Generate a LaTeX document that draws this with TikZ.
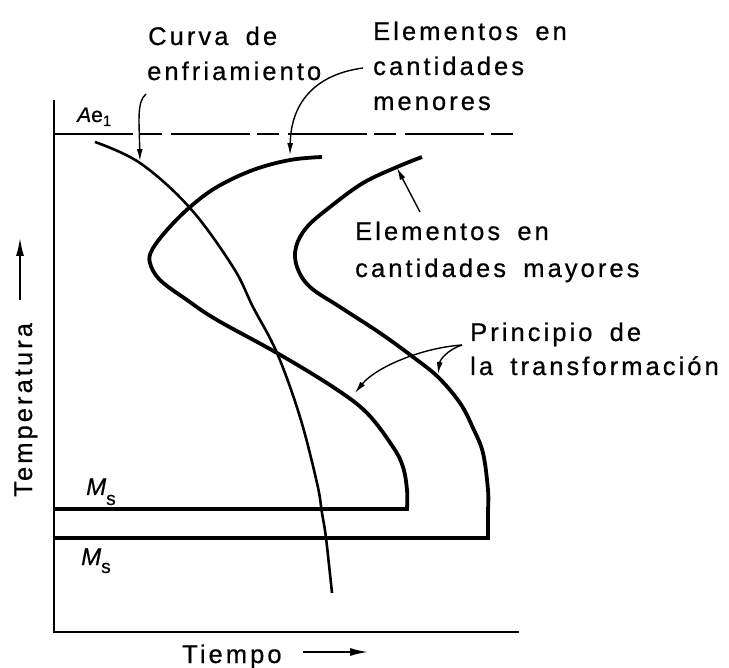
\documentclass[tikz,border=0pt]{standalone}
\usepackage{fontspec}
\setmainfont{Liberation Sans}[LetterSpace=12,WordSpace=1.7,FakeBold=0.6]
\usetikzlibrary{arrows.meta}
\begin{document}
\begin{tikzpicture}[x=1pt,y=-1pt,
  lbl/.style={anchor=base west,inner sep=0pt,font=\fontsize{25.5}{35}\selectfont},
  sym/.style={anchor=base west,inner sep=0pt,font=\fontsize{24}{28}\selectfont},
  axisline/.style={line width=2pt},
  ccurve/.style={line width=3.8pt,line join=miter},
  coolcurve/.style={line width=2.6pt},
  lead/.style={line width=1.4pt,-{Latex[length=12pt,width=6pt]}},
  bigarrow/.style={line width=1.6pt,-{Latex[length=18pt,width=8pt]}}]
\useasboundingbox (0,0) rectangle (729,668);

% axes
\coordinate (axtop) at (54,100);
\coordinate (axorig) at (54,632);
\coordinate (axright) at (519,632);
\draw[axisline] (axtop) -- (axorig) -- (axright);
\coordinate (aeL) at (54,134);
\coordinate (aeR) at (518,134);
\draw[axisline, dash pattern=on 79pt off 7pt on 22pt off 9pt] (aeL) -- (aeR);

% C-curve, minor alloying elements
\draw[ccurve] plot[smooth, tension=0.6] coordinates {(322,157) (290,160) (253,170) (217,187) (190,207) (167,230) (152,250) (150,263) (160,280) (187,300) (217,320) (277,353) (333,387) (367,413) (393,447) (403,467) (407,490) (407,509)} -- (54,509);

% C-curve, major alloying elements
\draw[ccurve] plot[smooth, tension=0.6] coordinates {(422,157) (397,167) (363,183) (330,207) (307,227) (296,247) (297,267) (310,287) (340,307) (380,333) (413,357) (438,377) (460,403) (473,428) (483,453) (488,490) (488,509)} -- (488,538) -- (54,538);

% cooling curve
\draw[coolcurve] plot[smooth, tension=0.6] coordinates {(95,142) (140,163) (190,208) (233,267) (253,307) (277,353) (300,417) (317,483) (322,513) (326,538) (332,593)};

% labels
\node[lbl] (curva1) at (148,45) {Curva de};
\node[lbl] (curva2) at (147,80) {enfriamiento};
\node[lbl] (men1) at (373,40) {Elementos en};
\node[lbl] (men2) at (373,75) {cantidades};
\node[lbl] (men3) at (373,110) {menores};
\node[lbl] (may1) at (355,240) {Elementos en};
\node[lbl] (may2) at (355,277) {cantidades mayores};
\node[lbl] (pr1) at (470,341) {Principio de};
\node[lbl] (pr2) at (470,375) {la transformación};
\node[lbl] (tiempo) at (182,663) {Tiempo};
\node[lbl, rotate=90] (temp) at (32,497) {Temperatura};
\node[sym, font=\fontsize{21}{25}\selectfont] (ae) at (77,122) {\itshape A\upshape e\raisebox{-4pt}{\fontsize{15}{15}\selectfont 1}};
\node[sym] (msA) at (86,495) {\itshape M\upshape\raisebox{-10pt}{\fontsize{19}{19}\selectfont s}};
\node[sym] (msB) at (81,565) {\itshape M\upshape\raisebox{-8pt}{\fontsize{19}{19}\selectfont s}};

% leader arrows
\coordinate (cvS) at (146,94);
\coordinate (cvT) at (140,161);
\draw[lead] (cvS) .. controls (137,102) and (139,118) .. (cvT);
\coordinate (mnS) at (363,68);
\coordinate (mnT) at (290,155);
\draw[lead] (mnS) .. controls (318,74) and (291,100) .. (mnT);
\coordinate (myS) at (420,212);
\coordinate (myT) at (397,168);
\draw[lead] (myS) -- (myT);
\coordinate (prS) at (462,345);
\coordinate (prT1) at (355,393);
\coordinate (prT2) at (438,374);
\draw[lead] (prS) .. controls (420,348) and (375,368) .. (prT1);
\draw[lead] (prS) .. controls (447,350) and (440,360) .. (prT2);

% axis arrows
\coordinate (tpS) at (20,300);
\coordinate (tpT) at (20,238);
\draw[bigarrow] (tpS) -- (tpT);
\coordinate (tmS) at (303,652);
\coordinate (tmT) at (368,652);
\draw[bigarrow] (tmS) -- (tmT);
\end{tikzpicture}
\end{document}
